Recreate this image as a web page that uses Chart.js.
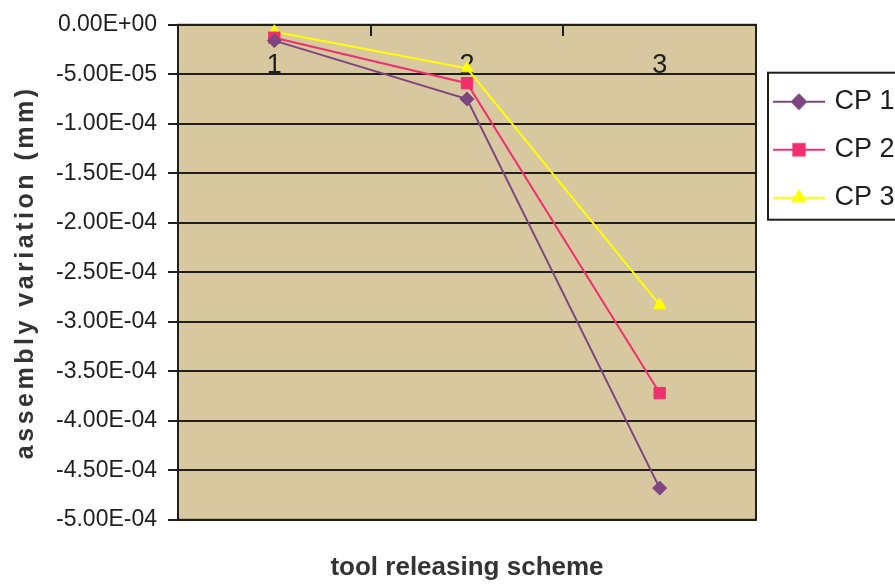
<!DOCTYPE html>
<html>
<head>
<meta charset="utf-8">
<title>assembly variation vs tool releasing scheme</title>
<style>
  html, body { margin: 0; padding: 0; background: #ffffff; }
  #wrap { width: 895px; height: 587px; position: relative; }
</style>
<script src="https://cdn.jsdelivr.net/npm/chart.js@4/dist/chart.umd.min.js"></script>
</head>
<body>
<div id="wrap"><canvas id="chart" width="895" height="587"></canvas></div>
<script>
// Tool releasing schemes (category axis)
const schemes = ['1', '2', '3'];

// Assembly variation (mm) at each control point
const cp1 = [-1.6e-5, -7.5e-5, -4.68e-4];
const cp2 = [-1.3e-5, -5.9e-5, -3.72e-4];
const cp3 = [-7e-6, -4.4e-5, -2.83e-4];

// Value-axis ticks
const yTickValues = [0, -5e-5, -1e-4, -1.5e-4, -2e-4, -2.5e-4, -3e-4, -3.5e-4, -4e-4, -4.5e-4, -5e-4];

const FONT = '"Liberation Sans", Arial, Helvetica, sans-serif';
const GRID = '#221f1a';
const PLOT_BG = '#d8c8a0';

const series = [
  { label: 'CP 1', data: cp1, color: '#7d4680', style: 'rectRot', radius: 7 },
  { label: 'CP 2', data: cp2, color: '#f0306e', style: 'rect', radius: 8 },
  { label: 'CP 3', data: cp3, color: '#ffff00', style: 'triangle', radius: 7 }
];

// Excel-style scientific notation, e.g. -5.00E-05
function sci(v) {
  if (Math.abs(v) < 1e-12) v = 0;
  const parts = v.toExponential(2).split('e');
  const sign = parts[1][0];
  const exp = parts[1].slice(1).padStart(2, '0');
  return parts[0] + 'E' + sign + exp;
}

// Legend swatch: short line with the series marker in the middle
function swatch(s) {
  const c = document.createElement('canvas');
  c.width = 52; c.height = 18;
  const g = c.getContext('2d');
  g.strokeStyle = s.color;
  g.lineWidth = 2;
  g.beginPath(); g.moveTo(0, 9); g.lineTo(52, 9); g.stroke();
  g.fillStyle = s.color;
  Chart.helpers.drawPoint(g, { pointStyle: s.style, radius: s.radius, borderWidth: 1 }, 26, 9);
  return c;
}

// Tan plot area with a dark frame
const plotFrame = {
  id: 'plotFrame',
  beforeDraw(chart) {
    const a = chart.chartArea, ctx = chart.ctx;
    ctx.save();
    ctx.fillStyle = PLOT_BG;
    ctx.fillRect(a.left, a.top, a.right - a.left, a.bottom - a.top);
    ctx.restore();
  },
  beforeDatasetsDraw(chart) {
    const a = chart.chartArea, ctx = chart.ctx;
    ctx.save();
    ctx.strokeStyle = GRID;
    ctx.lineWidth = 2;
    ctx.strokeRect(a.left, a.top, a.right - a.left, a.bottom - a.top);
    ctx.restore();
  }
};

// Box around the legend entries
const legendFrame = {
  id: 'legendFrame',
  afterDraw(chart) {
    const boxes = chart.legend && chart.legend.legendHitBoxes;
    if (!boxes || !boxes.length) return;
    const first = boxes[0], last = boxes[boxes.length - 1];
    const ctx = chart.ctx;
    const left = first.left - 9;
    const top = first.top + first.height / 2 - 29;
    const bottom = last.top + last.height / 2 + 22;
    ctx.save();
    ctx.strokeStyle = GRID;
    ctx.lineWidth = 2;
    ctx.strokeRect(left, top, chart.width + 10 - left, bottom - top);
    ctx.restore();
  }
};

// Wider letter spacing for the value-axis title
const spacedAxisTitle = {
  id: 'spacedAxisTitle',
  afterLayout(chart) {
    const s = chart.scales.y;
    if (!s || s._spacedTitle) return;
    const orig = s.drawTitle.bind(s);
    s.drawTitle = function () {
      const ctx = this.ctx;
      ctx.save();
      ctx.letterSpacing = '3.5px';
      orig();
      ctx.restore();
    };
    s._spacedTitle = true;
  }
};

new Chart(document.getElementById('chart'), {
  type: 'line',
  data: {
    labels: schemes,
    datasets: series.map(s => ({
      label: s.label,
      data: s.data,
      borderColor: s.color,
      backgroundColor: s.color,
      borderWidth: 2,
      pointStyle: s.style,
      pointRadius: s.radius,
      pointHoverRadius: s.radius,
      pointBackgroundColor: s.color,
      pointBorderColor: s.color,
      pointBorderWidth: 1,
      tension: 0,
      fill: false,
      clip: false
    }))
  },
  options: {
    responsive: false,
    animation: false,
    devicePixelRatio: 1,
    layout: { padding: { top: 24, left: 0, right: 0, bottom: 4 } },
    font: { family: FONT },
    scales: {
      x: {
        type: 'category',
        position: { y: 0 },
        offset: true,
        grid: {
          offset: true,
          drawOnChartArea: false,
          drawTicks: true,
          tickLength: 10,
          color: GRID,
          lineWidth: 2
        },
        border: { display: true, color: GRID, width: 2 },
        ticks: {
          color: '#1e1e1e',
          padding: 15,
          font: { family: FONT, size: 27 }
        }
      },
      y: {
        position: 'left',
        min: -5e-4,
        max: 0,
        afterBuildTicks(scale) {
          scale.ticks = yTickValues.map(v => ({ value: v }));
        },
        afterFit(scale) { scale.width = 178; },
        grid: {
          color: GRID,
          lineWidth: 2,
          tickLength: 10,
          drawTicks: true
        },
        border: { display: true, color: GRID, width: 2 },
        ticks: {
          color: '#1e1e1e',
          padding: 11,
          font: { family: FONT, size: 23 },
          callback: v => sci(v)
        },
        title: {
          display: true,
          text: 'assembly variation (mm)',
          color: '#333333',
          font: { family: FONT, size: 25, weight: 'bold' },
          padding: { top: 11, bottom: 0 }
        }
      }
    },
    plugins: {
      legend: {
        display: true,
        position: 'right',
        align: 'start',
        maxWidth: 139,
        title: {
          display: true,
          text: '',
          font: { size: 1 },
          padding: { top: 42, bottom: 0 }
        },
        labels: {
          usePointStyle: true,
          pointStyleWidth: 44,
          padding: 21,
          color: '#1e1e1e',
          font: { family: FONT, size: 27 },
          generateLabels(chart) {
            return series.map((s, i) => ({
              text: s.label,
              fillStyle: s.color,
              strokeStyle: s.color,
              lineWidth: 0,
              pointStyle: swatch(s),
              hidden: false,
              datasetIndex: i,
              fontColor: '#1e1e1e'
            }));
          }
        }
      },
      title: {
        display: true,
        position: 'bottom',
        fullSize: false,
        text: 'tool releasing scheme',
        color: '#333333',
        font: { family: FONT, size: 26, weight: 'bold' },
        padding: { top: 32, bottom: 0 }
      },
      tooltip: { enabled: false }
    }
  },
  plugins: [plotFrame, legendFrame, spacedAxisTitle]
});
</script>
</body>
</html>
